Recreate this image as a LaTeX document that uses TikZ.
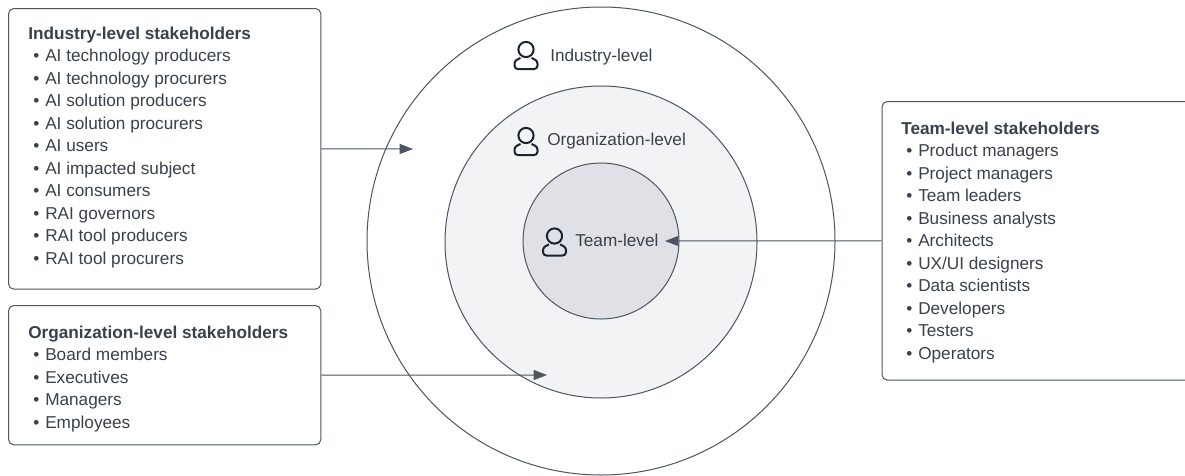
\documentclass[tikz,border=0pt]{standalone}
\usepackage{fontspec}
\setmainfont{Liberation Sans}
\usetikzlibrary{arrows.meta}
\definecolor{ink}{HTML}{3A414A}
\definecolor{edgeline}{HTML}{4C5560}
\definecolor{orgfill}{HTML}{F2F3F5}
\definecolor{teamfill}{HTML}{DFE1E6}
\definecolor{iconline}{HTML}{1A2330}
\newcommand{\itm}[1]{\\\hspace*{3.75pt}\makebox[9pt][l]{•}#1}
\newcommand{\ttl}[1]{\textbf{#1}}
\tikzset{
  x=0.75pt,y=-0.75pt,
  txt/.style={text=ink,inner sep=0pt,font=\fontsize{12.9}{16.875}\selectfont},
  listtext/.style={txt,align=left,anchor=north west},
  levellabel/.style={txt,anchor=base west},
  panel/.style={draw=edgeline,line width=0.75pt,rounded corners=4pt,fill=white,anchor=north west,inner sep=0pt},
  ring/.style={circle,draw=edgeline,line width=0.75pt,inner sep=0pt,anchor=center},
  conn/.style={draw=edgeline,line width=0.75pt,-{Triangle[length=10pt,width=7.5pt,fill=edgeline]}},
  person/.pic={
    \draw[iconline,line width=1.5pt,line join=round] (0,0) circle[radius=7.6];
    \draw[iconline,line width=1.5pt,line join=round] (-5.5,8.5) .. controls (-9,10) and (-11.5,11) .. (-11.5,14.5)
      -- (-11.5,16) .. controls (-11.5,18.5) and (-10,19.5) .. (-8,19.5) -- (8,19.5)
      .. controls (10,19.5) and (11.5,18.5) .. (11.5,16) -- (11.5,14.5)
      .. controls (11.5,11) and (9,10) .. (5.5,8.5);
  }
}
\begin{document}
\begin{tikzpicture}
\useasboundingbox (0,0) rectangle (1185,475);
\clip (0,0) rectangle (1185,475);
% rings
\node[ring,minimum size=351pt,fill=white] (industry) at (601,241) {};
\node[ring,minimum size=234pt,fill=orgfill] (organization) at (601,242) {};
\node[ring,minimum size=117pt,fill=teamfill] (team) at (601,241) {};
% ring labels
\pic at (526,49.5) {person};
\pic at (526,135.5) {person};
\pic at (554.5,236) {person};
\node[levellabel] (lblindustry) at (550,61) {Industry-level};
\node[levellabel] (lblorg) at (547,145) {Organization-level};
\node[levellabel] (lblteam) at (575,246.5) {Team-level};
% panels
\node[panel,minimum width=234.25pt,minimum height=210.5pt] (boxindustry) at (8,8) {};
\node[panel,minimum width=234.25pt,minimum height=104.5pt] (boxorg) at (8,305) {};
\node[panel,minimum width=240pt,minimum height=209pt] (boxteam) at (881.5,101) {};
\node[listtext] (txtindustry) at (28,26.5) {\ttl{Industry-level stakeholders}%
\itm{AI technology producers}\itm{AI technology procurers}\itm{AI solution producers}%
\itm{AI solution procurers}\itm{AI users}\itm{AI impacted subject}\itm{AI consumers}%
\itm{RAI governors}\itm{RAI tool producers}\itm{RAI tool procurers}};
\node[listtext] (txtorg) at (28,325.5) {\ttl{Organization-level stakeholders}%
\itm{Board members}\itm{Executives}\itm{Managers}\itm{Employees}};
\node[listtext] (txtteam) at (901,121.5) {\ttl{Team-level stakeholders}%
\itm{Product managers}\itm{Project managers}\itm{Team leaders}\itm{Business analysts}%
\itm{Architects}\itm{UX/UI designers}\itm{Data scientists}\itm{Developers}\itm{Testers}\itm{Operators}};
% connector ends
\coordinate (tipindustry) at (413,149);
\coordinate (tiporg) at (547,375);
\coordinate (tipteam) at (665,241);
\draw[conn] (boxindustry.east) -- (tipindustry);
\draw[conn] (boxorg.east) -- (tiporg);
\draw[conn] (boxteam.west) -- (tipteam);
\end{tikzpicture}
\end{document}
